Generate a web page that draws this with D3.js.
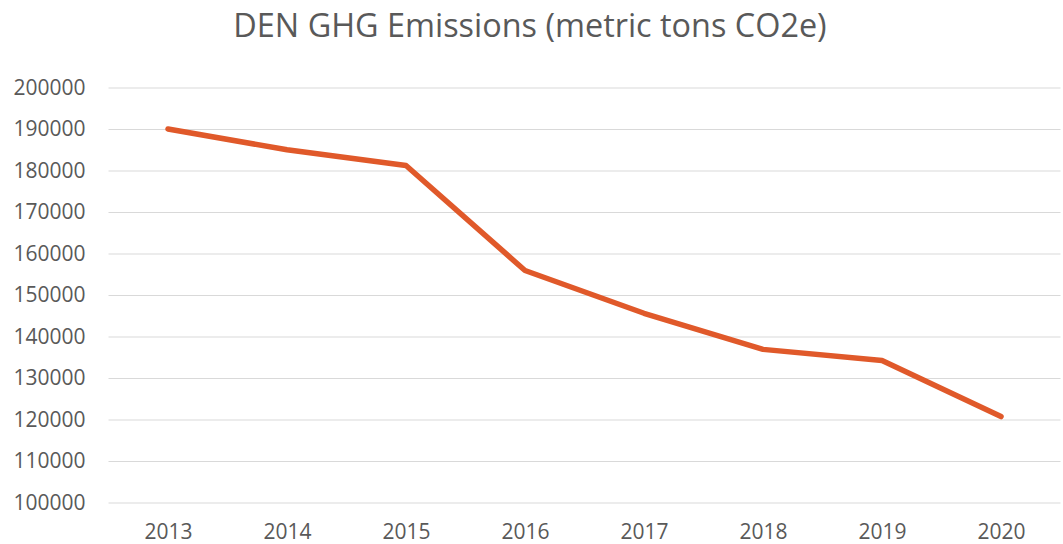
<!DOCTYPE html>
<html><head><meta charset="utf-8">
<script src="https://cdn.jsdelivr.net/npm/d3@7/dist/d3.min.js"></script>
<style>body{margin:0;background:#fff}svg{display:block}</style>
</head><body>
<svg id="c" width="1063" height="544"></svg>
<script>
const years = ["2013","2014","2015","2016","2017","2018","2019","2020"];
const emissions = [190000,185000,181200,155900,145600,136900,134200,120700];
const yTicks = [100000,110000,120000,130000,140000,150000,160000,170000,180000,190000,200000];
const title = "DEN GHG Emissions (metric tons CO2e)";

(function(){
const svg = d3.select("#c");
const mL = 108.5, mR = 1060.5, mT = 87.5, mB = 502.5;
const x = d3.scalePoint().domain(years).range([mL, mR]).padding(0.5);
const y = d3.scaleLinear().domain([100000,200000]).range([mB, mT]);
const font = "'Open Sans', sans-serif";

svg.append("text").attr("x", 530).attr("y", 37).attr("text-anchor","middle")
  .attr("font-family", font).attr("font-size", 32.4).attr("fill","#595959").text(title);

const ya = svg.append("g").attr("transform",`translate(${mL},0)`)
  .call(d3.axisLeft(y).tickValues(yTicks).tickSize(-(mR-mL)).tickPadding(23).tickFormat(d3.format("d")));
ya.select(".domain").remove();
ya.selectAll(".tick line").attr("stroke","#d9d9d9").attr("stroke-width",1);
ya.selectAll(".tick text").attr("font-family",font).attr("font-size",21).attr("fill","#595959");

const xa = svg.append("g").attr("transform",`translate(0,${mB})`)
  .call(d3.axisBottom(x).tickSize(0).tickPadding(22));
xa.select(".domain").remove();
xa.selectAll(".tick text").attr("font-family",font).attr("font-size",21).attr("fill","#595959");

const line = d3.line().x((d,i)=>x(years[i])).y(d=>y(d));
svg.append("path").datum(emissions).attr("d", line).attr("fill","none")
  .attr("stroke","#e0592a").attr("stroke-width",5.5).attr("stroke-linecap","round").attr("stroke-linejoin","round");
})();
</script>
</body></html>
